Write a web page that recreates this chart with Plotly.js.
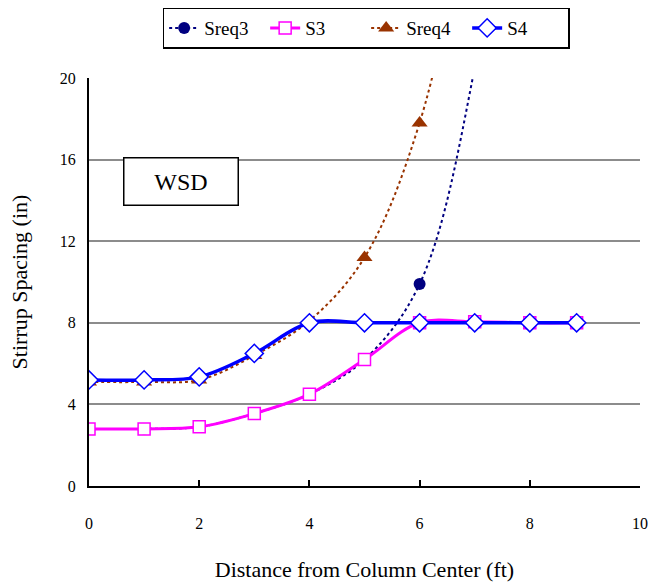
<!DOCTYPE html>
<html><head><meta charset="utf-8">
<script src="https://cdn.plot.ly/plotly-3.0.1.min.js"></script>
<style>html,body{margin:0;padding:0;background:#fff}</style>
</head><body>
<div id="chart" style="width:654px;height:582px"></div>
<script>
const xPts = [0, 1, 2, 3, 4, 5, 6, 7, 8, 8.85];
const xReq3 = [0, 1, 2, 3, 4, 5, 6, 7, 8];
const sreq3 = [2.8, 2.8, 2.9, 3.55, 4.5, 6.2, 9.9, 20.5, 40];
const s3 = [2.8, 2.8, 2.9, 3.55, 4.5, 6.2, 8.0, 8.05, 8.0, 8.0];
const xReq4 = [0, 1, 2, 3, 4, 5, 6, 7];
const sreq4 = [5.1, 5.1, 5.2, 6.4, 8.1, 11.2, 17.8, 30];
const s4 = [5.2, 5.2, 5.35, 6.5, 8.0, 8.0, 8.0, 8.0, 8.0, 8.0];
const xTicks = [0, 2, 4, 6, 8, 10];
const yTicks = [0, 4, 8, 12, 16, 20];

const serif = "Liberation Serif";
const traces = [
  {x: xReq3, y: sreq3, name: 'Sreq3', mode: 'lines+markers',
   line: {color: '#000080', width: 2, dash: 'dot', shape: 'spline'},
   marker: {symbol: 'circle', size: 12, color: '#000080'}},
  {x: xPts, y: s3, name: 'S3', mode: 'lines+markers',
   line: {color: '#FF00FF', width: 3, shape: 'spline'},
   marker: {symbol: 'square', size: 12, color: '#FFFFFF', line: {color: '#FF00FF', width: 1.5}}},
  {x: xReq4, y: sreq4, name: 'Sreq4', mode: 'lines+markers',
   line: {color: '#993300', width: 2, dash: 'dot', shape: 'spline'},
   marker: {symbol: 'triangle-up', size: 14, color: '#993300'}},
  {x: xPts, y: s4, name: 'S4', mode: 'lines+markers',
   line: {color: '#0000FF', width: 3.5, shape: 'spline'},
   marker: {symbol: 'diamond', size: 14, color: '#FFFFFF', line: {color: '#0000FF', width: 1.5}}}
];

const layout = {
  width: 654, height: 582,
  margin: {l: 89, r: 14, t: 78, b: 96, autoexpand: false},
  paper_bgcolor: '#fff', plot_bgcolor: '#fff',
  font: {family: serif, size: 14, color: '#000'},
  showlegend: true,
  legend: {orientation: 'h', xref: 'paper', x: 0.503, xanchor: 'center',
    yref: 'container', y: 0.987, yanchor: 'top',
    bordercolor: '#000', borderwidth: 1.5, font: {family: serif, size: 19, color: '#000'},
    entrywidth: 56, entrywidthmode: 'pixels', tracegroupgap: 0},
  xaxis: {range: [0, 10], tickvals: xTicks, ticktext: xTicks.map(String),
    showgrid: false, zeroline: false, showline: true, linecolor: '#000', linewidth: 2,
    ticks: 'inside', ticklen: 6, tickcolor: '#000', tickwidth: 1.5,
    ticklabelstandoff: 22, tickfont: {family: serif, size: 16, color: '#000'},
    title: {text: 'Distance from Column Center (ft)', font: {family: serif, size: 22, color: '#000'}, standoff: 30}},
  yaxis: {range: [0, 20], tickvals: yTicks, ticktext: yTicks.map(String),
    showgrid: true, gridcolor: '#8c8c8c', gridwidth: 1.5, zeroline: false,
    showline: true, linecolor: '#000', linewidth: 2, ticks: '',
    ticklabelstandoff: 8, tickfont: {family: serif, size: 16, color: '#000'},
    title: {text: 'Stirrup Spacing (in)', font: {family: serif, size: 22, color: '#000'}, standoff: 26}},
  annotations: [{xref: 'paper', yref: 'paper', x: 0.0617, y: 0.746, xanchor: 'left', yanchor: 'middle',
    text: 'WSD', showarrow: false, font: {family: serif, size: 24, color: '#000'},
    bordercolor: '#000', borderwidth: 1.5, borderpad: 10, bgcolor: '#fff', width: 93, height: 26}]
};

Plotly.newPlot('chart', traces, layout, {displayModeBar: false});
</script>
</body></html>
